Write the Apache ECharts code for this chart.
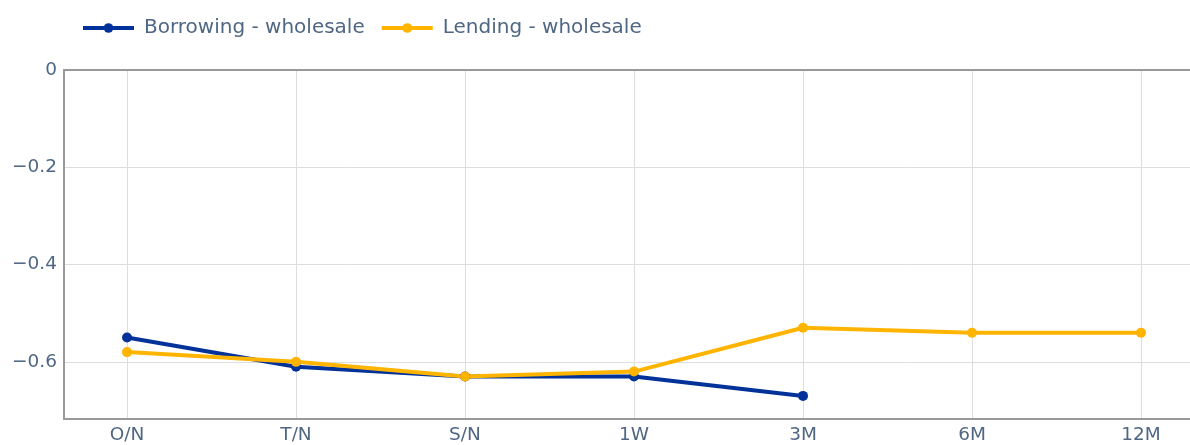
<!DOCTYPE html>
<html>
<head>
<meta charset="utf-8">
<script src="https://cdn.jsdelivr.net/npm/echarts@6/dist/echarts.min.js"></script>
<style>
    html, body {margin: 0; padding: 0; background: #fff;}
    #lineChart {width: 1190px; height: 445px;}
</style>
</head>
<body>
<div id="lineChart"></div>
<script>
    var categories = ['O/N', 'T/N', 'S/N', '1W', '3M', '6M', '12M'];
    var borrowing = [-0.55, -0.61, -0.63, -0.63, -0.67, null, null];
    var lending = [-0.58, -0.60, -0.63, -0.62, -0.53, -0.54, -0.54];
    var yTicks = [0, -0.2, -0.4, -0.6];
    var xTicks = [0, 1, 2, 3, 4, 5, 6];

    var textColor = '#506784';
    var font = 'DejaVu Sans';
    var frameColor = '#999';

    // points on a numeric x axis so the first/last category sit where the reference has them
    var toPairs = function (arr) {
        var out = [];
        for (var i = 0; i < arr.length; i++) {
            if (arr[i] !== null) out.push([i, arr[i]]);
        }
        return out;
    };
    var fmtY = function (v) {
        return v === 0 ? '0' : String(v).replace('-', '\u2212');
    };

    var myChart = echarts.init(document.getElementById('lineChart'));
    var option = {
        animation: false,
        textStyle: {fontFamily: font},
        legend: {
            left: 81,
            top: 18,
            padding: 0,
            itemWidth: 51,
            itemHeight: 12,
            itemGap: 15,
            lineStyle: {width: 4},
            textStyle: {color: textColor, fontSize: 20, fontFamily: font, padding: [0, 0, 0, 5]},
            data: ['Borrowing - wholesale', 'Lending - wholesale']
        },
        grid: {
            left: 64,
            right: 0,
            top: 70,
            bottom: 26
        },
        xAxis: [
            {
                type: 'value',
                min: -0.373,
                max: 6.29,
                axisLine: {show: true, onZero: false, lineStyle: {color: frameColor, width: 2}},
                axisTick: {show: false, customValues: xTicks},
                splitLine: {show: true, lineStyle: {color: '#dedede', width: 1}},
                axisLabel: {
                    customValues: xTicks,
                    color: textColor,
                    fontSize: 18.5,
                    margin: 7,
                    formatter: function (v) { return categories[Math.round(v)]; }
                }
            },
            {
                // top frame line only
                type: 'value',
                position: 'top',
                min: -0.373,
                max: 6.29,
                axisLine: {show: true, onZero: false, lineStyle: {color: frameColor, width: 2}},
                axisTick: {show: false},
                splitLine: {show: false},
                axisLabel: {show: false}
            }
        ],
        yAxis: {
            type: 'value',
            min: -0.7175,
            max: 0,
            axisLine: {show: true, onZero: false, lineStyle: {color: frameColor, width: 2}},
            axisTick: {show: false, customValues: yTicks},
            splitLine: {show: true, lineStyle: {color: '#dedede', width: 1}},
            axisLabel: {
                customValues: yTicks,
                color: textColor,
                fontSize: 18.5,
                margin: 7,
                formatter: fmtY
            }
        },
        series: [
            {
                name: 'Borrowing - wholesale',
                type: 'line',
                symbol: 'circle',
                symbolSize: 10,
                itemStyle: {color: '#003299'},
                lineStyle: {color: '#003299', width: 4},
                data: toPairs(borrowing)
            },
            {
                name: 'Lending - wholesale',
                type: 'line',
                symbol: 'circle',
                symbolSize: 10,
                itemStyle: {color: '#ffb400'},
                lineStyle: {color: '#ffb400', width: 4},
                data: toPairs(lending)
            }
        ]
    };
    myChart.setOption(option);
</script>
</body>
</html>
